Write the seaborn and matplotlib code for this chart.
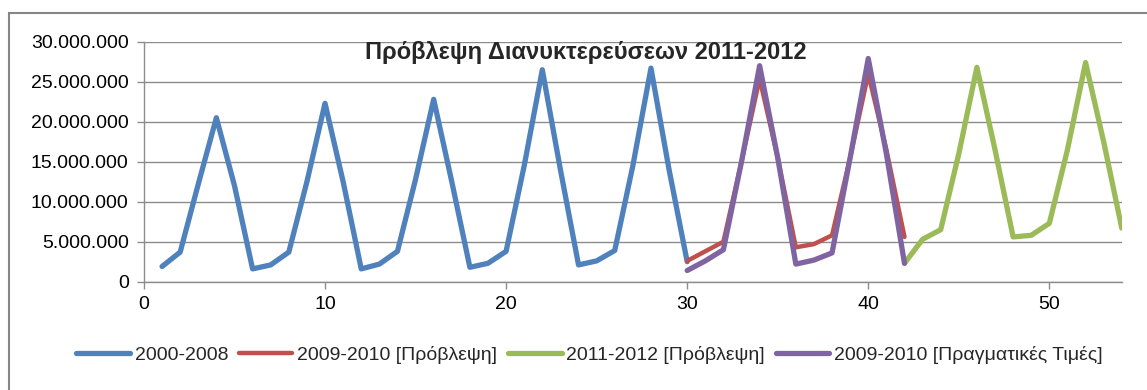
import numpy as np
import pandas as pd
import matplotlib
matplotlib.use("Agg")
import matplotlib.pyplot as plt
from matplotlib.ticker import FuncFormatter, MultipleLocator
from matplotlib.patches import Rectangle
import seaborn as sns

# values in millions of overnight stays
x_hist = list(range(1, 31))
hist = [1.9, 3.7, 12.2, 20.5, 12.0, 1.6,
        2.1, 3.7, 12.5, 22.3, 12.5, 1.6,
        2.2, 3.8, 12.8, 22.8, 12.5, 1.8,
        2.3, 3.8, 14.5, 26.5, 14.0, 2.1,
        2.6, 3.9, 14.5, 26.7, 14.0, 2.5]

x_0910 = list(range(30, 43))
pred_0910 = [2.6, 3.8, 5.0, 15.0, 25.4, 15.5, 4.3, 4.7, 5.8, 15.5, 26.0, 16.5, 5.6]
real_0910 = [1.4, 2.6, 4.0, 15.0, 27.0, 15.5, 2.2, 2.7, 3.6, 15.5, 27.9, 16.0, 2.3]

x_1112 = list(range(42, 55))
pred_1112 = [2.3, 5.3, 6.5, 16.0, 26.8, 16.5, 5.6, 5.8, 7.3, 16.5, 27.4, 17.5, 6.7]

labels = ["2000-2008", "2009-2010 [Πρόβλεψη]", "2011-2012 [Πρόβλεψη]",
          "2009-2010 [Πραγματικές Τιμές]"]
colors = ["#4F81BD", "#C0504D", "#9BBB59", "#8064A2"]
widths = [3.8, 3.2, 3.8, 3.8]

series = [(x_hist, hist), (x_0910, pred_0910), (x_1112, pred_1112), (x_0910, real_0910)]
frames = []
for lab, (xs, ys) in zip(labels, series):
    frames.append(pd.DataFrame({"x": xs, "y": np.array(ys) * 1e6, "series": lab}))
df = pd.concat(frames, ignore_index=True)

sns.set_style("white")
plt.rcParams["font.family"] = ["Liberation Sans", "DejaVu Sans"]

fig = plt.figure(figsize=(11.47, 3.90), dpi=100)
ax = fig.add_axes([0.1255, 0.2777, 0.978 - 0.1255, 0.893 - 0.2777])

for lab, col, lw in zip(labels, colors, widths):
    sns.lineplot(data=df[df["series"] == lab], x="x", y="y", color=col, lw=lw,
                 label=lab, ax=ax, solid_capstyle="round", solid_joinstyle="round")

ax.set_xlim(0, 54)
ax.set_ylim(0, 30e6)
ax.xaxis.set_major_locator(MultipleLocator(10))
ax.yaxis.set_major_locator(MultipleLocator(5e6))
ax.yaxis.set_major_formatter(FuncFormatter(lambda v, p: f"{int(v):,}".replace(",", ".")))
ax.set_xlabel("")
ax.set_ylabel("")
ax.grid(axis="y", color="#8c8c8c", lw=1)
ax.grid(axis="x", visible=False)
for s in ["top", "right"]:
    ax.spines[s].set_visible(False)
for s in ["left", "bottom"]:
    ax.spines[s].set_color("#8c8c8c")
    ax.spines[s].set_linewidth(1)
ax.tick_params(axis="both", which="major", direction="out", length=5, width=1,
               color="#8c8c8c", labelsize=14, labelcolor="black", left=True, bottom=True)
ax.tick_params(axis="y", pad=6)
ax.tick_params(axis="x", pad=5)

ax.legend_.remove()
handles, hl = ax.get_legend_handles_labels()
fig.legend(handles, hl, loc="center", bbox_to_anchor=(0.514, 0.09), ncol=4,
           frameon=False, fontsize=14, handlelength=2.75, handletextpad=0.25,
           columnspacing=0.55)

fig.text(0.5107, 1 - 59.3 / 390, "Πρόβλεψη Διανυκτερεύσεων 2011-2012",
         ha="center", va="baseline", fontsize=17, fontweight="bold")

# outer chart-area border (cropped on the right and bottom in the reference)
fig.patches.append(Rectangle((9 / 1147, -0.2), 1.2, 1 - 13 / 390 + 0.2,
                             transform=fig.transFigure, fill=False,
                             edgecolor="#868686", lw=1.5, zorder=0))

fig.savefig("out.png", dpi=100)
